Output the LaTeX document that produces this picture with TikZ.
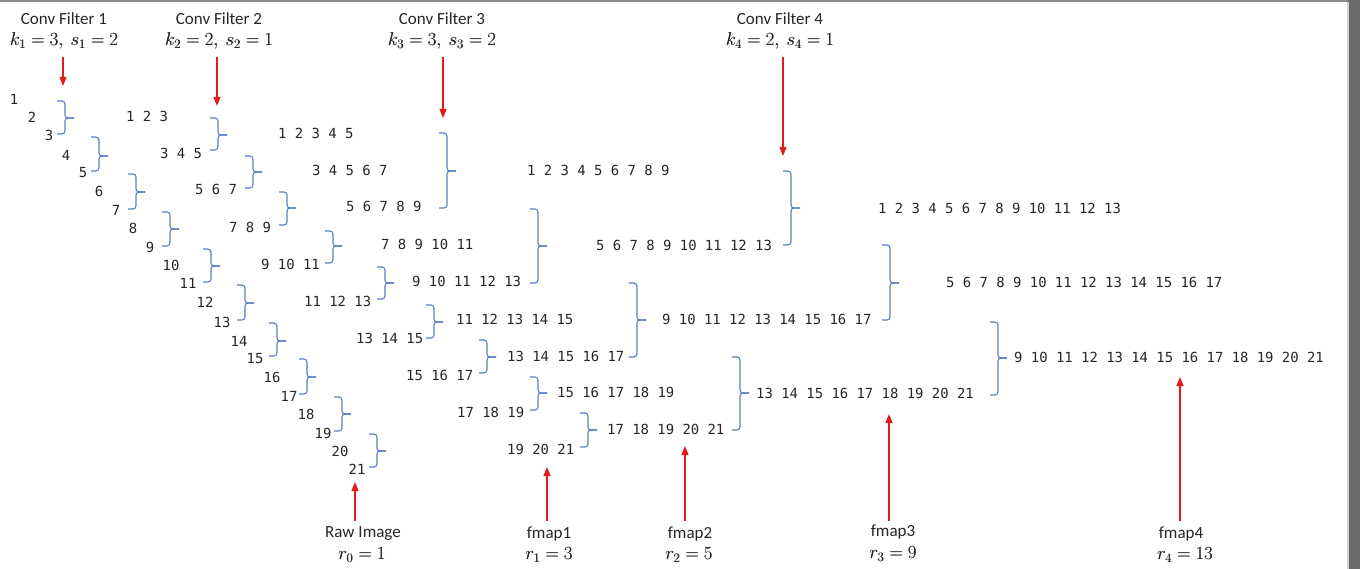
\documentclass[tikz,border=0pt]{standalone}
\usepackage{fontspec}
\setmainfont{Carlito}
\newfontfamily\numfont{DejaVu Sans Mono}
\usetikzlibrary{arrows.meta}
\definecolor{txt}{HTML}{262626}
\definecolor{brcol}{HTML}{5B7FC0}
\definecolor{arrcol}{HTML}{E31A1A}
\definecolor{framecol}{HTML}{6B6B6B}
\definecolor{topline}{HTML}{8A8A8A}
\newcommand{\brc}[4]{%
  \draw[bracel] (#1-8,#2) -| (#1,#4) -- (#1+9,#4);
  \draw[bracel] (#1-8,#3) -| (#1,#4) -- (#1+9,#4);}
% math slightly enlarged and slightly heavier (double print with tiny offset)
\newcommand{\mth}[1]{\scalebox{1.07}{\rlap{$#1$}\kern0.4pt$#1$}}
\tikzset{
  num/.style={font=\numfont\fontsize{13.9}{14}\selectfont, text=txt, inner sep=0pt, text height=10pt, text depth=0pt},
  row/.style={num, anchor=west},
  lbl/.style={font=\fontsize{17}{20}\selectfont, text=txt, inner sep=0pt},
  mlbl/.style={font=\fontsize{17.28}{20}\selectfont, text=txt, inner sep=0pt},
  bracel/.style={draw=brcol, line width=1.1pt, rounded corners=3pt},
  redarr/.style={draw=arrcol, line width=1.2pt, -{Triangle[length=9pt,width=7pt]}},
}
\begin{document}
\begin{tikzpicture}[x=1pt,y=-1pt]
\useasboundingbox (0,0) rectangle (1360,569);
\fill[white] (0,0) rectangle (1360,569);
% window frame
\fill[topline] (0,0) rectangle (1348,2);
\fill[framecol] (1348,0) rectangle (1360,569);
\fill[gray!35] (1347,2) rectangle (1348.5,569);

% ---- top labels ----
\node[lbl] (cf1) at (64,19) {Conv Filter 1};
\node[mlbl] (cf1m) at (64,41) {\mth{k_1 = 3,\ s_1 = 2}};
\node[lbl] (cf2) at (219,19) {Conv Filter 2};
\node[mlbl] (cf2m) at (219,41) {\mth{k_2 = 2,\ s_2 = 1}};
\node[lbl] (cf3) at (442,19) {Conv Filter 3};
\node[mlbl] (cf3m) at (442,41) {\mth{k_3 = 3,\ s_3 = 2}};
\node[lbl] (cf4) at (780,19) {Conv Filter 4};
\node[mlbl] (cf4m) at (780,41) {\mth{k_4 = 2,\ s_4 = 1}};

\coordinate (a1s) at (63,57);  \coordinate (a1e) at (63,86);
\coordinate (a2s) at (217,57); \coordinate (a2e) at (217,106);
\coordinate (a3s) at (443,57); \coordinate (a3e) at (443,118);
\coordinate (a4s) at (783,57); \coordinate (a4e) at (783,156);
\draw[redarr] (a1s) -- (a1e);
\draw[redarr] (a2s) -- (a2e);
\draw[redarr] (a3s) -- (a3e);
\draw[redarr] (a4s) -- (a4e);

% ---- raw image column ----
\foreach \i/\x/\y in {1/14/100, 2/32/118, 3/49/136, 4/66/156, 5/83/173, 6/99/192, 7/116/211,
  8/133/229, 9/150/248, 10/171/266, 11/188/284, 12/205/303, 13/222/322, 14/239/341,
  15/255/358, 16/272/377, 17/289/396, 18/306/414, 19/323/433, 20/340/451, 21/357/469}
  \node[num] (c0n\i) at (\x,\y) {\i};
\foreach \xv/\t/\b/\m in {65/101/134/118, 99/137/171/156, 136/174/209/192, 170/212/246/229,
  211/249/282/266, 245/285/320/303, 277/323/356/341, 307/359/394/377, 342/397/431/414,
  377/434/467/451}
  {\brc{\xv}{\t}{\b}{\m}}

% ---- fmap1 ----
\node[row] (f1r1) at (126,117) {1 2 3};
\node[row] (f1r2) at (160,154) {3 4 5};
\node[row] (f1r3) at (195,190) {5 6 7};
\node[row] (f1r4) at (229,228) {7 8 9};
\node[row] (f1r5) at (261,265) {9 10 11};
\node[row] (f1r6) at (304,302) {11 12 13};
\node[row] (f1r7) at (356,339) {13 14 15};
\node[row] (f1r8) at (406,375) {15 16 17};
\node[row] (f1r9) at (457,412) {17 18 19};
\node[row] (f1r10) at (507,449) {19 20 21};
\foreach \xv/\t/\b/\m in {218/118/150/135, 253/156/188/172, 287/192/225/208, 333/231/263/246,
  385/267/299/283, 434/305/338/322, 487/340/373/357, 538/377/410/393, 588/413/447/430}
  {\brc{\xv}{\t}{\b}{\m}}

% ---- fmap2 ----
\node[row] (f2r1) at (278,134) {1 2 3 4 5};
\node[row] (f2r2) at (312,171) {3 4 5 6 7};
\node[row] (f2r3) at (346,207) {5 6 7 8 9};
\node[row] (f2r4) at (381,245) {7 8 9 10 11};
\node[row] (f2r5) at (412,282) {9 10 11 12 13};
\node[row] (f2r6) at (456,319) {11 12 13 14 15};
\node[row] (f2r7) at (507,356) {13 14 15 16 17};
\node[row] (f2r8) at (557,392) {15 16 17 18 19};
\node[row] (f2r9) at (607,429) {17 18 19 20 21};
\foreach \xv/\t/\b/\m in {447/133/208/171, 538/209/283/246, 637/283/357/320, 740/357/430/393}
  {\brc{\xv}{\t}{\b}{\m}}

% ---- fmap3 ----
\node[row] (f3r1) at (527,171) {1 2 3 4 5 6 7 8 9};
\node[row] (f3r2) at (596,246) {5 6 7 8 9 10 11 12 13};
\node[row] (f3r3) at (662,320) {9 10 11 12 13 14 15 16 17};
\node[row] (f3r4) at (756,393) {13 14 15 16 17 18 19 20 21};
\foreach \xv/\t/\b/\m in {791/171/245/208, 890/245/320/283, 998/322/395/358}
  {\brc{\xv}{\t}{\b}{\m}}

% ---- fmap4 ----
\node[row] (f4r1) at (878,209) {1 2 3 4 5 6 7 8 9 10 11 12 13};
\node[row] (f4r2) at (946,283) {5 6 7 8 9 10 11 12 13 14 15 16 17};
\node[row] (f4r3) at (1014,357) {9 10 11 12 13 14 15 16 17 18 19 20 21};

% ---- bottom labels ----
\node[lbl] (raw) at (363,534) {Raw Image};
\node[mlbl] (rawr) at (362,555) {\mth{r_0 = 1}};
\node[lbl] (fm1) at (549,534) {fmap1};
\node[mlbl] (fm1r) at (549,555) {\mth{r_1 = 3}};
\node[lbl] (fm2) at (690,534) {fmap2};
\node[mlbl] (fm2r) at (689,555) {\mth{r_2 = 5}};
\node[lbl] (fm3) at (893,532) {fmap3};
\node[mlbl] (fm3r) at (893,554) {\mth{r_3 = 9}};
\node[lbl] (fm4) at (1181,534) {fmap4};
\node[mlbl] (fm4r) at (1185,555) {\mth{r_4 = 13}};

\coordinate (b0s) at (355,521);  \coordinate (b0e) at (355,482);
\coordinate (b1s) at (547,521);  \coordinate (b1e) at (547,467);
\coordinate (b2s) at (685,521);  \coordinate (b2e) at (685,446);
\coordinate (b3s) at (889,521);  \coordinate (b3e) at (889,414);
\coordinate (b4s) at (1180,521); \coordinate (b4e) at (1180,377);
\draw[redarr] (b0s) -- (b0e);
\draw[redarr] (b1s) -- (b1e);
\draw[redarr] (b2s) -- (b2e);
\draw[redarr] (b3s) -- (b3e);
\draw[redarr] (b4s) -- (b4e);
\end{tikzpicture}
\end{document}
